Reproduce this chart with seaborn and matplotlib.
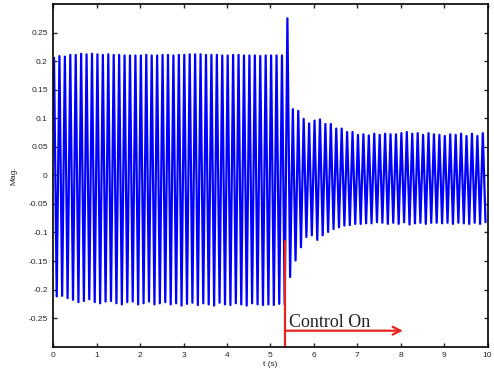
import numpy as np
import pandas as pd
import matplotlib
matplotlib.use('Agg')
import matplotlib.pyplot as plt
import seaborn as sns

sns.set_style('ticks')
plt.rcParams['font.family'] = ['Liberation Sans', 'DejaVu Sans']

# Oscillation peaks (one max and one min per cycle)
period = 0.125          # s, ~8 Hz
first_peak_t = 0.015    # time of the first maximum
control_t = 5.33        # control switched on

peak_max = [
    0.206, 0.209, 0.208, 0.211, 0.211, 0.213, 0.212, 0.213, 0.212, 0.211,
    0.212, 0.211, 0.211, 0.210, 0.210, 0.210, 0.210, 0.211, 0.210, 0.210,
    0.211, 0.211, 0.210, 0.211, 0.211, 0.212, 0.212, 0.212, 0.211, 0.211,
    0.211, 0.210, 0.210, 0.211, 0.211, 0.210, 0.210, 0.210, 0.209, 0.210,
    0.210, 0.210, 0.210,
    0.275,
    0.116, 0.113, 0.099, 0.091, 0.096, 0.098, 0.090, 0.090, 0.082, 0.082,
    0.076, 0.076, 0.071, 0.072, 0.070, 0.073, 0.071, 0.073, 0.072, 0.072,
    0.074, 0.076, 0.073, 0.074, 0.071, 0.074, 0.072, 0.071, 0.069, 0.072,
    0.071, 0.073, 0.069, 0.073, 0.069, 0.074,
]
peak_min = [
    -0.212, -0.211, -0.215, -0.218, -0.222, -0.220, -0.217, -0.222, -0.224, -0.221,
    -0.220, -0.224, -0.226, -0.222, -0.221, -0.226, -0.224, -0.221, -0.226, -0.224,
    -0.222, -0.226, -0.224, -0.228, -0.225, -0.223, -0.227, -0.224, -0.226, -0.228,
    -0.223, -0.226, -0.227, -0.224, -0.226, -0.228, -0.224, -0.226, -0.227, -0.226,
    -0.227, -0.225, -0.226,
    -0.178, -0.149, -0.126, -0.108, -0.105, -0.113, -0.105, -0.099, -0.094, -0.091,
    -0.088, -0.087, -0.085, -0.085, -0.084, -0.084, -0.082,
    -0.083, -0.085, -0.083, -0.085, -0.082, -0.086, -0.084, -0.083, -0.085, -0.083,
    -0.083, -0.084, -0.083, -0.085, -0.083, -0.084, -0.085, -0.083, -0.085, -0.082,
]

x_ticks = [0, 1, 2, 3, 4, 5, 6, 7, 8, 9, 10]
y_ticks = [0.25, 0.2, 0.15, 0.1, 0.05, 0, -0.05, -0.1, -0.15, -0.2, -0.25]
y_tick_labels = ['0.25', '0.2', '0.15', '0.1', '0.05', '0',
                 '-0.05', '-0.1', '-0.15', '-0.2', '-0.25']

# interleave max/min peaks into one trace
n = len(peak_max)
t_max = first_peak_t + period * np.arange(n)
t_min = t_max + period / 2
t = np.empty(2 * n)
v = np.empty(2 * n)
t[0::2], t[1::2] = t_max, t_min
v[0::2], v[1::2] = peak_max, peak_min
signal = pd.DataFrame({'t': t, 'mag': v})

fig = plt.figure(figsize=(4.94, 3.70), dpi=100)
ax = fig.add_axes([0.108, 0.063, 0.879, 0.926])

sns.lineplot(data=signal, x='t', y='mag', ax=ax, color='#0000ff',
             linewidth=1.6, estimator=None, sort=False)

# "Control On" marker
red = '#e8231f'
ax.plot([control_t, control_t], [-0.3, -0.115], color=red, linewidth=1.6)
ax.annotate('', xy=(8.05, -0.272), xytext=(control_t, -0.272),
            arrowprops=dict(arrowstyle='->', color=red, lw=1.6,
                            mutation_scale=14, shrinkA=0, shrinkB=0))
ax.text(5.42, -0.266, 'Control On', color='#222222', fontsize=13,
        family='Liberation Serif', ha='left', va='baseline')

ax.set_xlim(0, 10)
ax.set_ylim(-0.3, 0.3)
ax.set_xticks(x_ticks)
ax.set_yticks(y_ticks)
ax.set_yticklabels(y_tick_labels)
ax.set_xlabel('t (s)', fontsize=6, labelpad=1)
ax.set_ylabel('Mag.', fontsize=6, labelpad=8)
ax.tick_params(direction='in', length=3, width=1, labelsize=6,
               top=True, right=True, pad=4)
for s in ax.spines.values():
    s.set_visible(True)
    s.set_linewidth(1.2)
    s.set_color('black')

fig.savefig('out.png', dpi=100)
